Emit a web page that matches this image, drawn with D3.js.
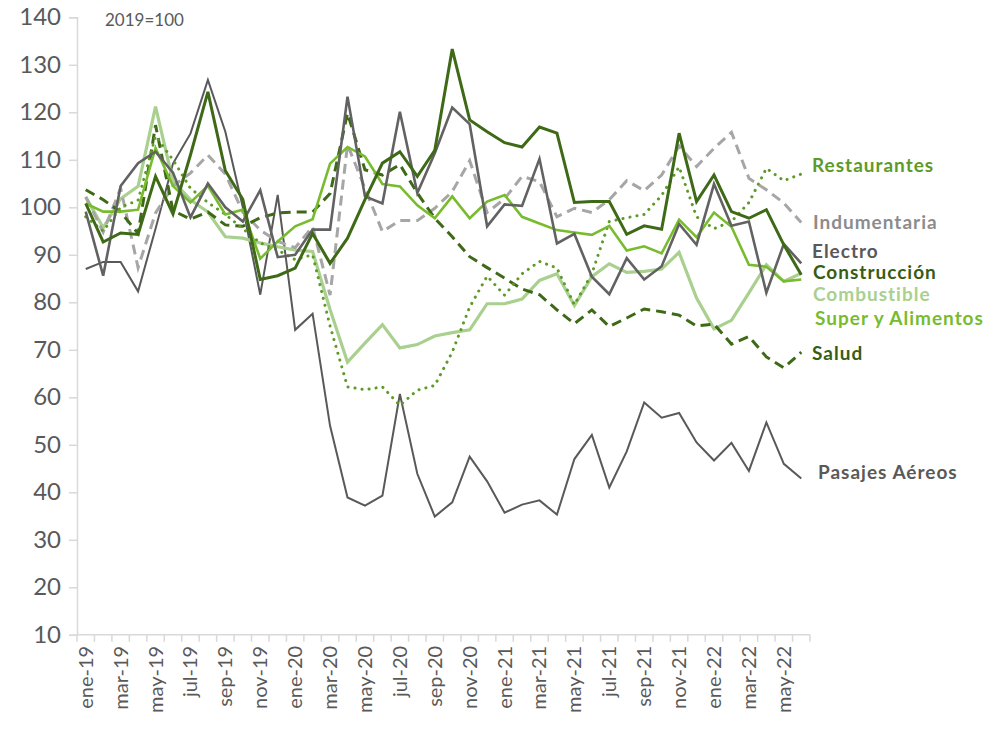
<!DOCTYPE html>
<html>
<head>
<meta charset="utf-8">
<script src="https://cdn.jsdelivr.net/npm/d3@7"></script>
<style>
  html, body { margin: 0; padding: 0; background: #fff; }
  svg { display: block; font-family: Lato, "Open Sans", sans-serif; }
</style>
</head>
<body>
<svg id="chart" width="999" height="735"></svg>
<script>
// ---------------- DATA ----------------
const monthNames = ["ene","feb","mar","abr","may","jun","jul","ago","sep","oct","nov","dic"];
const months = [];
for (let y = 19; y <= 22; y++) {
  for (let m = 0; m < 12; m++) {
    if (y === 22 && m > 5) break;
    months.push(monthNames[m] + "-" + y);
  }
}
const yTicks = [10,20,30,40,50,60,70,80,90,100,110,120,130,140];
const baseNote = "2019=100";

const restaurantes = [98,95,100,101.5,115,110,104,101,98.5,95.5,92.5,91,89,90,75,62.2,61.6,62.2,58.3,61.5,62.5,69.5,79,85.5,81.5,86,88.6,87.2,79.5,86,97,97.8,98.5,102.5,108.5,98,95.5,97,101,108.2,105.6,107];
const indumentaria = [102.2,94.8,104,87.3,98.8,104.5,107.2,111,107,99,95.2,92.8,91.5,95.9,81.5,113.2,104,94.9,97.2,97.2,99.8,103.3,109.8,98.9,101.8,106.5,105.4,98,99.8,98.9,101.6,105.6,103.5,106.8,112.9,108.6,112.4,115.8,106.1,103.7,100.9,96.8];
const electro = [99.1,85.6,104.5,109.3,111.7,107.3,97.9,105,100,97,103.6,89.5,90,95.3,95.3,123.3,102.3,100.8,120.1,103,111.4,121,117.5,96,100.6,100.3,110.2,92.4,94.4,85.4,81.7,89.3,84.8,87.6,96.5,92.1,104.9,96.1,97,82,92.3,88.2];
const construccion = [100.8,92.7,94.6,94.3,106.5,98.6,111,124.3,107.7,101.7,84.8,85.6,87.2,94.5,88.2,93.5,101.6,109.3,111.7,106.5,112,133.3,118.4,115.9,113.6,112.7,116.9,115.6,101,101.2,101.2,94.3,96.1,95.4,115.6,101.2,106.8,99.1,97.7,99.5,92.1,85.8];
const combustible = [102.2,95.7,101.8,104.4,121.2,105.5,101.6,99,93.8,93.5,92.5,91.7,91,90.7,78.5,67.4,71.4,75.3,70.4,71.1,72.9,73.6,74.2,79.7,79.7,80.7,84.6,86,79.3,85.4,88.1,86.3,86.5,87,90.5,80.9,74.4,76.2,82,87.9,84.4,86.1];
const superAlimentos = [100.8,99.1,99.1,99.5,112.5,104.5,101,104.5,98.5,99.5,89.2,92.8,96,97.5,109.2,112.7,110.7,104.9,104.4,100.4,97.7,102.3,97.7,101.2,102.6,98,96.6,95.2,94.7,94.2,96.1,90.9,91.8,90.3,97.4,93.7,98.9,95.9,87.9,87.5,84.4,84.8];
const salud = [103.7,101.6,99,94.5,117.3,99.3,97.5,99,96.3,96,97.8,98.8,99,99,102.9,119.8,107.9,106.8,109,103,97.7,93.8,89.6,87.3,85.1,82.8,81.6,78.4,75.5,78.4,74.9,76.7,78.6,78,77.3,75,75.4,71.2,72.8,68.5,66.2,69.5];
const pasajes = [87,88.5,88.5,82.3,95.5,109.2,115.5,126.8,115.9,100,81.6,102.6,74.2,77.6,54,38.9,37.2,39.3,60.7,43.9,34.9,37.9,47.5,42.3,35.7,37.4,38.3,35.3,47,52.1,41,48.6,58.9,55.7,56.7,50.5,46.7,50.4,44.5,54.7,46,42.9];

const seriesNames = ["Restaurantes","Indumentaria","Electro","Construcción","Combustible","Super y Alimentos","Salud","Pasajes Aéreos"];
const seriesValues = [restaurantes, indumentaria, electro, construccion, combustible, superAlimentos, salud, pasajes];

// ---------------- STYLES / LAYOUT ----------------
const styles = {
  "Restaurantes":      {color:"#5e9a28", label:"#5e9a28", width:3,   dash:"0.1,7", cap:"round", labelX:812, labelY:165},
  "Indumentaria":      {color:"#a6a6a6", label:"#8c8c8c", width:3,   dash:"10,6",  cap:"butt",  labelX:813, labelY:222},
  "Electro":           {color:"#626262", label:"#595959", width:2.6, dash:null,    cap:"butt",  labelX:812, labelY:251},
  "Construcción":      {color:"#3e6a17", label:"#375d14", width:3,   dash:null,    cap:"butt",  labelX:813, labelY:272.5},
  "Combustible":       {color:"#a9d08e", label:"#a9d08e", width:3.2, dash:null,    cap:"butt",  labelX:813, labelY:294},
  "Super y Alimentos": {color:"#78bc2e", label:"#78bc2e", width:2.6, dash:null,    cap:"butt",  labelX:815, labelY:318},
  "Salud":             {color:"#3e6a17", label:"#375d14", width:3,   dash:"10,6",  cap:"butt",  labelX:812, labelY:353},
  "Pasajes Aéreos":    {color:"#595959", label:"#595959", width:2,   dash:null,    cap:"butt",  labelX:818, labelY:472}
};
const drawOrder = ["Pasajes Aéreos","Combustible","Indumentaria","Salud","Restaurantes","Super y Alimentos","Electro","Construcción"];

const svg = d3.select("#chart");
const plot = {left:77, right:810, top:17.3, bottom:634.8};

const x = d3.scaleBand().domain(months).range([plot.left, plot.right]).paddingInner(0).paddingOuter(0);
const y = d3.scaleLinear().domain([10,140]).range([plot.bottom, plot.top]);
const cx = m => x(m) + x.bandwidth()/2;

const axisColor = "#d9d9d9";
const textColor = "#595959";

// Y axis
const yAxis = svg.append("g").attr("transform", `translate(${plot.left},0)`)
  .call(d3.axisLeft(y).tickValues(yTicks).tickSize(8).tickPadding(8).tickFormat(d3.format("d")));
yAxis.select(".domain").attr("stroke", axisColor).attr("stroke-width", 1.5);
yAxis.selectAll(".tick line").attr("stroke", axisColor).attr("stroke-width", 1.5);
yAxis.selectAll(".tick text").attr("fill", textColor).style("font-size", "24px").style("font-family", "Lato, sans-serif");

// X axis line and boundary ticks
const xg = svg.append("g");
xg.append("line").attr("x1", plot.left).attr("x2", plot.right).attr("y1", plot.bottom).attr("y2", plot.bottom)
  .attr("stroke", axisColor).attr("stroke-width", 1.5);
xg.selectAll("line.bt").data(months.concat(["__end"])).join("line").attr("class","bt")
  .attr("x1", d => d === "__end" ? plot.right : x(d))
  .attr("x2", d => d === "__end" ? plot.right : x(d))
  .attr("y1", plot.bottom).attr("y2", plot.bottom + 7)
  .attr("stroke", axisColor).attr("stroke-width", 1.5);

// X labels (every two months)
const xLabelMonths = months.filter((m,i) => i % 2 === 0);
xg.selectAll("text.xl").data(xLabelMonths).join("text").attr("class","xl")
  .attr("transform", d => `translate(${cx(d) + 7},${plot.bottom + 11}) rotate(-90)`)
  .attr("text-anchor", "end")
  .attr("fill", textColor)
  .style("font-size", "20px")
  .text(d => d);

// Note
svg.append("text").attr("x", 105).attr("y", 26).attr("fill", textColor)
  .style("font-size", "17px").text(baseNote);

// Lines
const line = d3.line().x((d,i) => cx(months[i])).y(d => y(d)).curve(d3.curveLinear);
drawOrder.forEach(name => {
  const idx = seriesNames.indexOf(name);
  const st = styles[name];
  const p = svg.append("path").datum(seriesValues[idx])
    .attr("d", line)
    .attr("fill", "none")
    .attr("stroke", st.color)
    .attr("stroke-width", st.width)
    .attr("stroke-linejoin", "miter")
    .attr("stroke-linecap", st.cap);
  if (st.dash) p.attr("stroke-dasharray", st.dash);
});

// Series labels
seriesNames.forEach(name => {
  const st = styles[name];
  svg.append("text")
    .attr("x", st.labelX)
    .attr("y", st.labelY)
    .attr("dy", "0.35em")
    .attr("fill", st.label)
    .style("font-size", "19px")
    .style("letter-spacing", "1px")
    .style("font-weight", "bold")
    .text(name);
});
</script>
</body>
</html>
